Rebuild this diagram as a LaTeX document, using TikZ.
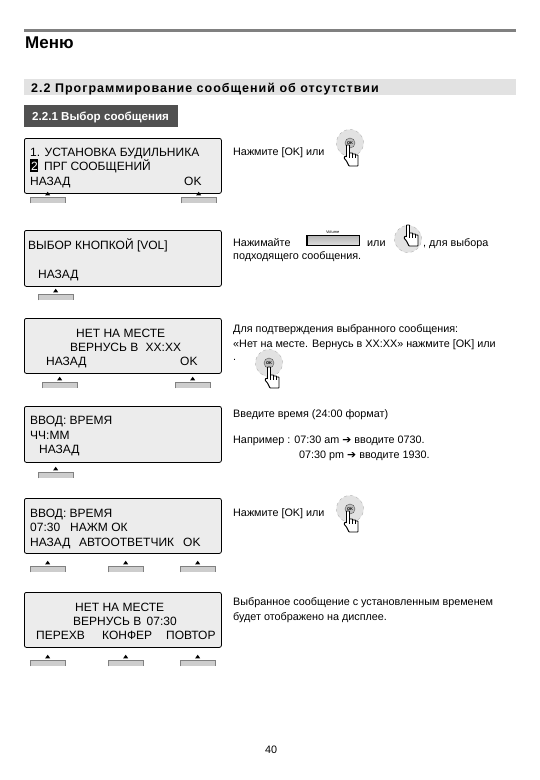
\documentclass[tikz,border=0pt]{standalone}
\usepackage{fontspec}
\setmainfont{Liberation Sans}
\usepackage{xcolor}
\usetikzlibrary{arrows.meta, positioning, shapes.geometric, calc}
\definecolor{lcdgray}{RGB}{236,236,236}
\definecolor{keygray}{RGB}{205,205,205}
\definecolor{bargray}{RGB}{226,226,226}
\definecolor{darkbar}{RGB}{80,80,80}
\newfontfamily\arrowfont{DejaVu Sans}
\newcommand{\softkey}[3]{%
  \node[keybar, anchor=north west] (#1) at (#2,#3) {};
  \draw[gray, line width=0.7pt] (#1.south west) -- (#1.north west) -- (#1.north east) -- (#1.south east);
  \node[keytip, above=1.5pt of #1] (#1tip) {};
}
\newcommand{\okdial}[3]{%
  \node[dial] (#1) at (#2,#3) {};
  \node[okcap] (#1cap) at (#1) {OK};
}
\tikzset{
  handshape/.pic={
    \draw[fill=white, line width=0.9pt, rounded corners=0.6pt]
      (-1.5,0) -- (-1.5,-12) -- (1.5,-12) -- (1.5,-4) -- (4.5,-4) -- (4.5,-3)
      -- (7.5,-3) -- (7.5,-2) -- (10,-2) -- (10,9) -- (1,9) -- (-1.5,4) -- (-4,1) -- (-3,-1) -- cycle;
    \draw[line width=0.7pt] (1.5,-4) -- (1.5,1) (4.5,-3) -- (4.5,1) (7.5,-2) -- (7.5,1);
  }
}
\begin{document}
\begin{tikzpicture}[x=1pt, y=-1pt,
    screen/.style={rectangle, rounded corners=2pt, draw=black, line width=0.8pt, fill=lcdgray,
                   minimum width=197pt, minimum height=55pt, anchor=north west},
    lcd/.style={font=\fontsize{12}{14}\selectfont, anchor=base west, inner sep=0pt},
    keybar/.style={rectangle, fill=keygray, minimum width=35pt, minimum height=6pt, inner sep=0pt},
    keytip/.style={isosceles triangle, isosceles triangle apex angle=70, shape border rotate=90,
                   fill=black, inner sep=0pt, minimum height=3pt, minimum width=5pt},
    hint/.style={font=\fontsize{10.8}{14}\selectfont, anchor=base west, inner sep=0pt},
    dial/.style={circle, fill=bargray, draw=gray!60, dashed, minimum size=27pt, inner sep=0pt},
    okcap/.style={circle, draw=darkbar, fill=lightgray, minimum size=10pt, inner sep=0pt,
                  font=\fontsize{4}{4}\bfseries\selectfont}
]
\useasboundingbox (0,0) rectangle (540,780);
\fill[white] (0,0) rectangle (540,780);
% page header
\fill[gray] (24,29) rectangle (516,32);
\node[font=\fontsize{17}{19}\bfseries\selectfont, anchor=base west, inner sep=0pt] (title) at (25,48) {Меню};
\node[rectangle, fill=bargray, minimum width=492pt, minimum height=16pt, anchor=north west, inner sep=0pt] (sect) at (24,79) {};
\node[font=\fontsize{12.5}{14}\bfseries\selectfont\addfontfeature{LetterSpace=8}, anchor=base west, inner sep=0pt] (secttext) at (31,92) {2.2 Программирование сообщений об отсутствии};
\node[rectangle, fill=darkbar, minimum width=154pt, minimum height=22pt, anchor=north west, inner sep=0pt] (sub) at (24,105) {};
\node[font=\fontsize{11.6}{13}\bfseries\selectfont, text=white, anchor=base west, inner sep=0pt] (subtext) at (32,120) {2.2.1 Выбор сообщения};
% screens
\node[screen] (scr1) at (24,138) {};
\node[screen, minimum height=56pt] (scr2) at (24,230) {};
\node[screen] (scr3) at (24,318) {};
\node[screen, minimum height=56pt] (scr4) at (24,406) {};
\node[screen] (scr5) at (24,498) {};
\node[screen] (scr6) at (24,592) {};
% screen texts
\node[lcd] (a1) at (30,156) {1. УСТАНОВКА БУДИЛЬНИКА};
\fill[black] (30,159) rectangle (38,172);
\node[lcd, text=white] (a2) at (31,170) {2};
\node[lcd] (a3) at (44,170) {ПРГ СООБЩЕНИЙ};
\node[lcd] (a4) at (30,185) {НАЗАД};
\node[lcd] (a5) at (184,185) {OK};
\node[lcd] (b1) at (28,249) {ВЫБОР КНОПКОЙ [VOL]};
\node[lcd] (b2) at (38,278) {НАЗАД};
\node[lcd] (c1) at (76,337) {НЕТ НА МЕСТЕ};
\node[lcd] (c2) at (70,351) {ВЕРНУСЬ В\hspace{4pt} XX:XX};
\node[lcd] (c3) at (46,365) {НАЗАД};
\node[lcd] (c4) at (180,365) {OK};
\node[lcd] (d1) at (30,424) {ВВОД: ВРЕМЯ};
\node[lcd] (d2) at (30,439) {ЧЧ:ММ};
\node[lcd] (d3) at (39,453) {НАЗАД};
\node[lcd] (e1) at (30,517) {ВВОД: ВРЕМЯ};
\node[lcd] (e2) at (30,531) {07:30\hspace{10pt}НАЖМ ОК};
\node[lcd] (e3) at (30,546) {НАЗАД};
\node[lcd] (e4) at (79,546) {АВТООТВЕТЧИК};
\node[lcd] (e5) at (183,546) {OK};
\node[lcd] (f1) at (75,611) {НЕТ НА МЕСТЕ};
\node[lcd] (f2) at (73,625) {ВЕРНУСЬ В\hspace{2pt} 07:30};
\node[lcd] (f3) at (36,639) {ПЕРЕХВ};
\node[lcd] (f4) at (102,639) {КОНФЕР};
\node[lcd] (f5) at (166,639) {ПОВТОР};
% soft keys
\softkey{ka1}{30}{197}
\softkey{ka2}{181}{197}
\softkey{kb1}{38}{294}
\softkey{kc1}{42}{382}
\softkey{kc2}{175}{382}
\softkey{kd1}{38}{472}
\softkey{ke1}{30}{566}
\softkey{ke2}{108}{566}
\softkey{ke3}{180}{566}
\softkey{kf1}{30}{660}
\softkey{kf2}{108}{660}
\softkey{kf3}{180}{660}
% hints
\node[hint] (h1) at (233,155) {Нажмите [OK] или};
\okdial{dial1}{350}{143}
\pic at (348,157) {handshape};
\node[hint] (h2) at (233,246) {Нажимайте};
\node[rectangle, top color=gray!60, bottom color=gray!25, draw=black, line width=0.4pt,
      minimum width=53pt, minimum height=10pt, anchor=north west, inner sep=0pt] (volkey) at (306,235) {};
\fill[black] (volkey.north west) rectangle ($(volkey.south west)+(1.5,0)$);
\node[font=\fontsize{4}{4}\selectfont, inner sep=0pt, above=1.5pt of volkey] (voltext) {Volume};
\node[hint] (h3) at (367,246) {или};
\node[dial] (dial2) at (408,239) {};
\pic at (408,237) {handshape};
\node[hint] (h4) at (423,246) {, для выбора};
\node[hint] (h5) at (233,259) {подходящего сообщения.};
\node[hint] (h6) at (233,332) {Для подтверждения выбранного сообщения:};
\node[hint] (h7) at (233,347) {«Нет на месте. Вернусь в XX:XX» нажмите [OK] или};
\node[hint] (h8) at (233,360) {.};
\okdial{dial3}{269}{363}
\pic at (269,379) {handshape};
\node[hint] (h9) at (233,417) {Введите время (24:00 формат)};
\node[hint] (h10) at (233,443) {Например : 07:30 am {\arrowfont ➔} вводите 0730.};
\node[hint] (h11) at (299,458) {07:30 pm {\arrowfont ➔} вводите 1930.};
\node[hint] (h12) at (233,516) {Нажмите [OK] или};
\okdial{dial4}{350}{509}
\pic at (348,523) {handshape};
\node[hint] (h13) at (233,605) {Выбранное сообщение с установленным временем};
\node[hint] (h14) at (233,620) {будет отображено на дисплее.};
\node[hint] (pageno) at (265,753) {40};
\end{tikzpicture}
\end{document}
